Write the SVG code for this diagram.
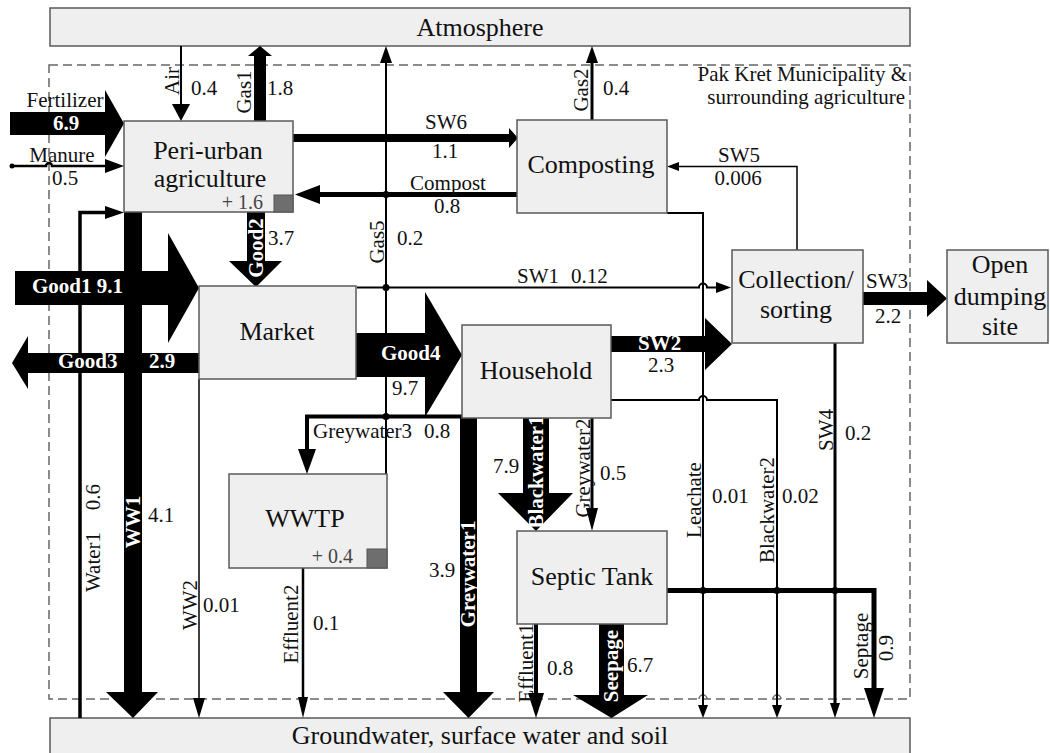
<svg xmlns="http://www.w3.org/2000/svg" width="1050" height="753" viewBox="0 0 1050 753">
<style>
.box{fill:#efefef;stroke:#5a5a5a;stroke-width:1.5}
.sq{fill:#6e6e6e;stroke:#555;stroke-width:1}
.nl{font-family:"Liberation Serif","Times New Roman",serif;font-size:26px;fill:#111;text-anchor:middle}
.fl{font-family:"Liberation Serif","Times New Roman",serif;font-size:21px;fill:#111}
.bw{font-family:"Liberation Serif","Times New Roman",serif;font-size:21px;font-weight:bold;fill:#fff}
.gr{fill:#444;font-size:20px}
.mid{text-anchor:middle}
.end{text-anchor:end}
.blk{fill:#000}
.ln{fill:none;stroke:#000;stroke-linejoin:miter}
.dot{fill:#000}
.bound{fill:none;stroke:#666;stroke-width:1.5;stroke-dasharray:9 5}
.hop{fill:none;stroke:#666;stroke-width:1.5}
</style>

<rect class="bound" x="49" y="65" width="861" height="634"/>
<path class="hop" d="M699,699 a4,4 0 0 1 8,0 M773,699 a4,4 0 0 1 8,0"/>
<text class="fl end" x="907" y="81">Pak Kret Municipality &amp;</text>
<text class="fl end" x="905" y="104">surrounding agriculture</text>

<g id="atmosphere"><rect class="box" x="50" y="8" width="860" height="38"/><text class="nl" x="480" y="36">Atmosphere</text></g>
<g id="groundwater"><rect class="box" x="50" y="718" width="860" height="40"/><text class="nl" x="480" y="744">Groundwater, surface water and soil</text></g>

<g id="connectors">
 <g id="fertilizer"><polygon class="blk" points="10,112 105,112 105,90 124,123.5 105,157 105,135 10,135"/><text class="fl mid" x="65" y="107">Fertilizer</text><text class="bw mid" x="66" y="130">6.9</text></g>
 <g id="manure"><path class="ln" stroke-width="2.5" d="M12,166 H46 a3,3 0 0 1 6,0 H106"/><polygon class="blk" points="105,159 105,173 124,166"/><circle class="dot" cx="12" cy="166" r="2.5"/><text class="fl mid" x="62" y="162">Manure</text><text class="fl" x="52" y="185">0.5</text></g>
 <g id="air"><line class="ln" stroke-width="2" x1="181" y1="46" x2="181" y2="105"/><polygon class="blk" points="172,104 190,104 181,121"/><text class="fl mid" transform="translate(179,81) rotate(-90)">Air</text><text class="fl" x="191" y="95">0.4</text></g>
 <g id="gas1"><polygon class="blk" points="254,121 254,56 248,56 260,46 272,56 266,56 266,121"/><text class="fl mid" transform="translate(251,92) rotate(-90)">Gas1</text><text class="fl" x="267" y="95">1.8</text></g>
 <g id="gas2"><line class="ln" stroke-width="3" x1="592" y1="120" x2="592" y2="62"/><polygon class="blk" points="586,63 598,63 592,46"/><text class="fl mid" transform="translate(588,90) rotate(-90)">Gas2</text><text class="fl" x="603" y="95">0.4</text></g>
 <g id="gas5"><line class="ln" stroke-width="2" x1="386" y1="474" x2="386" y2="62"/><polygon class="blk" points="380,63 392,63 386,46"/><text class="fl mid" transform="translate(384,242) rotate(-90)">Gas5</text><text class="fl" x="397" y="245">0.2</text></g>
 <g id="sw6"><polygon class="blk" points="293,134 509,134 509,128 518,138 509,148 509,142 293,142"/><text class="fl mid" x="446" y="129">SW6</text><text class="fl mid" x="445" y="158">1.1</text></g>
 <g id="compost"><polygon class="blk" points="517,192 320,192 320,185 295,194.5 320,204 320,197 517,197"/><text class="fl mid" x="448" y="190">Compost</text><text class="fl mid" x="447" y="213">0.8</text></g>
 <g id="sw5"><path class="ln" stroke-width="1.5" d="M797,250 V166.5 H678"/><polygon class="blk" points="679,162 679,171 667,166.5"/><text class="fl mid" x="739" y="162">SW5</text><text class="fl mid" x="738" y="185">0.006</text></g>
 <g id="good2"><polygon class="blk" points="247,212 265,212 265,261 282,261 256,287 229,261 247,261"/><text class="bw mid" transform="translate(263,248) rotate(-90)">Good2</text><text class="fl" x="268" y="245">3.7</text></g>
 <g id="good1"><polygon class="blk" points="15,271 168,271 168,233 199,288 168,343 168,305 15,305"/></g>
 <g id="good3"><polygon class="blk" points="199,353 28,353 28,336 12,363 28,389 28,373 199,373"/></g>
 <g id="water1"><path class="ln" stroke-width="3.5" d="M80,718 V212.5 H106"/><polygon class="blk" points="105,206 105,219 124,212.5"/><text class="fl mid" transform="translate(100,562) rotate(-90)">Water1</text><text class="fl mid" transform="translate(100,497) rotate(-90)">0.6</text></g>
 <g id="ww1"><polygon class="blk" points="124,212 142,212 142,692 158,692 133,718 106,692 124,692"/><text class="bw mid" transform="translate(140,522) rotate(-90)">WW1</text><text class="fl" x="148" y="522">4.1</text></g>
 <text class="bw" x="32" y="293">Good1 9.1</text>
 <text class="bw" x="58" y="368">Good3</text><text class="bw" x="149" y="368">2.9</text>
 <g id="sw1"><path class="ln" stroke-width="2" d="M357,287.5 H699 a4,4 0 0 1 8,0 H717"/><polygon class="blk" points="716,282 716,293 731,287.5"/><text class="fl" x="517" y="283">SW1</text><text class="fl" x="571" y="283">0.12</text></g>
 <g id="good4"><polygon class="blk" points="356,333 425,333 425,292 462,355 425,417 425,377 356,377"/><text class="bw" x="381" y="360">Good4</text><text class="fl" x="392" y="395">9.7</text></g>
 <g id="sw2"><polygon class="blk" points="611,336 705,336 705,318 732,344 705,370 705,352 611,352"/><text class="bw" x="638" y="350">SW2</text><text class="fl" x="648" y="372">2.3</text></g>
 <g id="sw3"><polygon class="blk" points="863,292 927,292 927,280 947,298.5 927,317 927,305 863,305"/><text class="fl" x="866" y="288">SW3</text><text class="fl" x="875" y="323">2.2</text></g>
 <g id="leachate"><path class="ln" stroke-width="2" d="M667,213 H703 V706"/><polygon class="blk" points="698,705 708,705 703,718"/><text class="fl mid" transform="translate(701,500) rotate(-90)">Leachate</text><text class="fl" x="712" y="503">0.01</text></g>
 <g id="blackwater2"><path class="ln" stroke-width="2" d="M611,400 H699 a4,4 0 0 1 8,0 H777 V706"/><polygon class="blk" points="772,705 782,705 777,718"/><text class="fl mid" transform="translate(774,510) rotate(-90)">Blackwater2</text><text class="fl" x="782" y="503">0.02</text></g>
 <g id="sw4"><line class="ln" stroke-width="3" x1="835" y1="343" x2="835" y2="706"/><polygon class="blk" points="830,703 840,703 835,718"/><text class="fl mid" transform="translate(833,430) rotate(-90)">SW4</text><text class="fl" x="845" y="440">0.2</text></g>
 <g id="septage"><path class="ln" stroke-width="5" d="M667,590.5 H874 V690"/><polygon class="blk" points="864,688 884,688 874,718"/><text class="fl mid" transform="translate(868,646) rotate(-90)">Septage</text><text class="fl mid" transform="translate(893,648) rotate(-90)">0.9</text></g>
 <g id="greywater3"><path class="ln" stroke-width="4" d="M462,416.5 H307 V452"/><polygon class="blk" points="298,449 316,449 307,474"/><text class="fl" x="313" y="438">Greywater3</text><text class="fl" x="424" y="438">0.8</text></g>
 <g id="greywater2"><line class="ln" stroke-width="3" x1="592" y1="418" x2="592" y2="510"/><polygon class="blk" points="586,508 598,508 592,531"/><text class="fl mid" transform="translate(590,468) rotate(-90)">Greywater2</text><text class="fl" x="600" y="480">0.5</text></g>
 <g id="blackwater1"><polygon class="blk" points="523,418 549,418 549,493 573,493 536,531 498,493 523,493"/><text class="bw mid" transform="translate(543,472) rotate(-90)">Blackwater1</text><text class="fl" x="493" y="473">7.9</text></g>
 <g id="greywater1"><polygon class="blk" points="460,418 477,418 477,692 494,692 468.5,718 443,692 460,692"/><text class="bw mid" transform="translate(475,574) rotate(-90)">Greywater1</text><text class="fl" x="429" y="577">3.9</text></g>
 <g id="effluent1"><line class="ln" stroke-width="4" x1="536" y1="624" x2="536" y2="695"/><polygon class="blk" points="528,693 544,693 536,718"/><text class="fl mid" transform="translate(533,663) rotate(-90)">Effluent1</text><text class="fl" x="547" y="675">0.8</text></g>
 <g id="seepage"><polygon class="blk" points="599,624 624,624 624,695 648,695 611.5,718 573,695 599,695"/><text class="bw mid" transform="translate(618,666) rotate(-90)">Seepage</text><text class="fl" x="627" y="672">6.7</text></g>
 <g id="effluent2"><line class="ln" stroke-width="2.5" x1="303" y1="568" x2="303" y2="699"/><polygon class="blk" points="298,697 308,697 303,718"/><text class="fl mid" transform="translate(298,624) rotate(-90)">Effluent2</text><text class="fl" x="313" y="630">0.1</text></g>
 <g id="ww2"><line class="ln" stroke-width="1.5" x1="199" y1="379" x2="199" y2="700"/><polygon class="blk" points="193,698 205,698 199,718"/><text class="fl mid" transform="translate(197,605) rotate(-90)">WW2</text><text class="fl" x="203" y="612">0.01</text></g>
 <g id="junctions"><circle class="dot" cx="386" cy="194.5" r="3.5"/><circle class="dot" cx="386" cy="287.5" r="3.5"/><circle class="dot" cx="386" cy="416.5" r="3.5"/><circle class="dot" cx="703" cy="590.5" r="3.5"/><circle class="dot" cx="777" cy="590.5" r="3.5"/><circle class="dot" cx="835" cy="590.5" r="3.5"/></g>
</g>

<g id="peri-urban"><rect class="box" x="124" y="121" width="169" height="91"/><rect class="sq" x="274" y="195" width="19" height="17"/><text class="nl" x="208" y="159">Peri-urban</text><text class="nl" x="210" y="187">agriculture</text><text class="fl end gr" x="263" y="209">+ 1.6</text></g>
<g id="composting"><rect class="box" x="517" y="120" width="150" height="93"/><text class="nl" x="591" y="173">Composting</text></g>
<g id="market"><rect class="box" x="199" y="286" width="157" height="93"/><text class="nl" x="277" y="340">Market</text></g>
<g id="household"><rect class="box" x="462" y="325" width="149" height="93"/><text class="nl" x="536" y="379">Household</text></g>
<g id="collection"><rect class="box" x="732" y="250" width="131" height="93"/><text class="nl" x="796" y="288">Collection/</text><text class="nl" x="796" y="318">sorting</text></g>
<g id="open-dumping"><rect class="box" x="947" y="250" width="101" height="93"/><text class="nl" x="1000" y="273">Open</text><text class="nl" x="1000" y="305">dumping</text><text class="nl" x="1000" y="335">site</text></g>
<g id="wwtp"><rect class="box" x="229" y="474" width="158" height="94"/><rect class="sq" x="367" y="549" width="20" height="19"/><text class="nl" x="305" y="527">WWTP</text><text class="fl end gr" x="353" y="563">+ 0.4</text></g>
<g id="septic"><rect class="box" x="517" y="531" width="150" height="93"/><text class="nl" x="592" y="585">Septic Tank</text></g>
</svg>
